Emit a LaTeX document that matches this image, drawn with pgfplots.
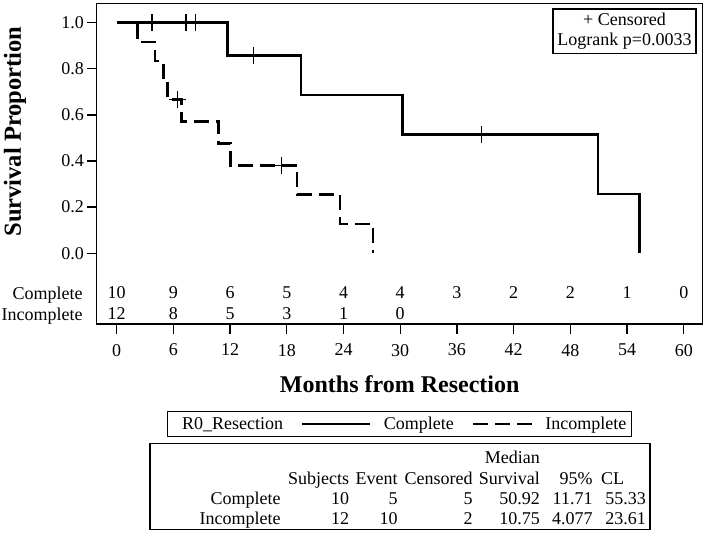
\documentclass[border=0pt]{standalone}
\usepackage{fontspec}
\setmainfont{Liberation Serif}
\usepackage{pgfplots}
\pgfplotsset{compat=1.18}

\begin{document}
\begin{tikzpicture}[font=\fontsize{18}{20}\selectfont]
\begin{axis}[
  scale only axis, width=605.9pt, height=320.7pt,
  xmin=-2.1, xmax=62, ymin=-0.307, ymax=1.084,
  xtick={0,6,12,18,24,30,36,42,48,54,60},
  ytick={0,0.2,0.4,0.6,0.8,1},
  tick pos=left, tick align=outside, major tick length=9.5pt,
  axis line style={line width=1.3pt},
  every tick/.style={black, line width=1.3pt},
  ticklabel style={font=\fontsize{18}{20}\selectfont},
  xticklabel style={yshift=-7pt},
  /pgf/number format/assume math mode=true,
  yticklabel style={/pgf/number format/.cd, fixed, fixed zerofill, precision=1},
  xlabel={Months from Resection},
  xlabel style={font=\fontsize{24}{28}\selectfont\bfseries, at={(axis description cs:0.5,-0.187)}, anchor=center},
  ylabel={Survival Proportion},
  ylabel style={font=\fontsize{24.5}{28}\selectfont\bfseries, at={(axis description cs:-0.135,0.60)}, anchor=center},
  clip=false,
  legend columns=-1,
  legend style={at={(axis description cs:0.5,-0.2713)}, anchor=north, draw=black, line width=1.2pt,
    inner sep=2.5pt, nodes={inner sep=3pt}, font=\fontsize{18}{20}\selectfont,
    /tikz/every even column/.append style={column sep=15pt},
    /tikz/every odd column/.append style={column sep=9pt},
    /tikz/column 1/.append style={column sep=0pt}},
]
\addlegendimage{empty legend}
\addlegendentry{R0\_Resection}

% Complete (solid)
\addplot[const plot, line width=2.6pt, black,
  legend image code/.code={\draw[line width=2.6pt] (0pt,0pt) -- (68pt,0pt);}]
  coordinates {(0,1) (11.71,0.8571) (19.49,0.6857) (30.25,0.5143) (50.92,0.2571) (55.33,0)};
\addlegendentry{Complete}
\addplot[forget plot, only marks, mark=+, mark size=8.5pt, line width=1.2pt, black]
  coordinates {(3.73,1) (7.33,1) (8.35,1) (14.52,0.8571) (38.6,0.5143)};

% Incomplete (dashed)
\addplot[const plot, line width=2.6pt, black, dash pattern=on 15pt off 7pt,
  legend image code/.code={\draw[line width=2.6pt, dash pattern=on 15pt off 7pt] (0pt,0pt) -- (59pt,0pt);}]
  coordinates {(0,1) (2.18,0.9167) (4.077,0.8333) (4.93,0.75) (5.39,0.6667) (6.87,0.5714) (10.75,0.4762) (12.06,0.3810) (19.10,0.2540) (23.61,0.1270) (27.14,0)};
\addlegendentry{Incomplete}
\addplot[forget plot, only marks, mark=+, mark size=8.5pt, line width=1.2pt, black]
  coordinates {(6.41,0.6667) (17.45,0.3810)};

% Number at risk
\addplot[forget plot, draw=none, mark=none, nodes near coords, point meta=explicit symbolic,
  nodes near coords style={anchor=center, font=\fontsize{18}{20}\selectfont}]
  table[meta=n] {
x y n
0 -0.172 10
6 -0.172 9
12 -0.172 6
18 -0.172 5
24 -0.172 4
30 -0.172 4
36 -0.172 3
42 -0.172 2
48 -0.172 2
54 -0.172 1
60 -0.172 0
};
\addplot[forget plot, draw=none, mark=none, nodes near coords, point meta=explicit symbolic,
  nodes near coords style={anchor=center, font=\fontsize{18}{20}\selectfont}]
  table[meta=n] {
x y n
0 -0.262 12
6 -0.262 8
12 -0.262 5
18 -0.262 3
24 -0.262 1
30 -0.262 0
};

\node[draw, line width=1.2pt, align=center, anchor=north east, inner xsep=4.5pt, inner ysep=4pt,
  font=\fontsize{18}{20}\selectfont] at (axis description cs:0.990,0.984) {+ Censored\\Logrank p=0.0033};
\end{axis}

\begin{scope}[x=1pt, y=-1pt, shift={(-96.8pt,324pt)}]
  % at-risk row labels
  \node[anchor=base east, inner sep=0pt] at (82.7,300) {Complete};
  \node[anchor=base east, inner sep=0pt] at (82.7,320.7) {Incomplete};
  % summary table
  \draw[line width=1.2pt] (150,443.3) rectangle (650,529.3);
  \begin{scope}[every node/.style={inner sep=0pt}]
  \node[anchor=base east] at (540,463) {Median};
  \node[anchor=base east] at (349.3,484) {Subjects};
  \node[anchor=base east] at (397.7,484) {Event};
  \node[anchor=base east] at (472.7,484) {Censored};
  \node[anchor=base east] at (540,484) {Survival};
  \node[anchor=base east] at (592.7,484) {95\%};
  \node[anchor=base west] at (601,484) {CL};
  \node[anchor=base east] at (280.7,504) {Complete};
  \node[anchor=base east] at (349.3,504) {10};
  \node[anchor=base east] at (397.7,504) {5};
  \node[anchor=base east] at (472.7,504) {5};
  \node[anchor=base east] at (540,504) {50.92};
  \node[anchor=base east] at (592.7,504) {11.71};
  \node[anchor=base east] at (646,504) {55.33};
  \node[anchor=base east] at (280.7,524) {Incomplete};
  \node[anchor=base east] at (349.3,524) {12};
  \node[anchor=base east] at (397.7,524) {10};
  \node[anchor=base east] at (472.7,524) {2};
  \node[anchor=base east] at (540,524) {10.75};
  \node[anchor=base east] at (592.7,524) {4.077};
  \node[anchor=base east] at (646,524) {23.61};
  \end{scope}
  \pgfresetboundingbox
  \path[use as bounding box] (0,0) rectangle (705,533);
\end{scope}
\end{tikzpicture}
\end{document}
